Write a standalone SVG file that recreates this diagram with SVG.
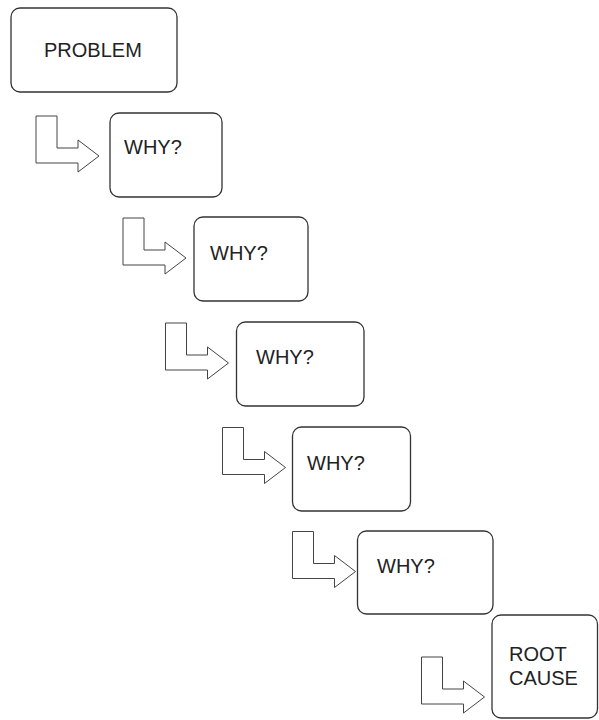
<svg xmlns="http://www.w3.org/2000/svg" width="599" height="720" viewBox="0 0 599 720">
<defs>
<style>
.box{fill:#fff;stroke:#333;stroke-width:1.3}
.arr{fill:#fff;stroke:#444;stroke-width:1}
.t{font-family:"Liberation Sans",Arial,sans-serif;font-size:20px;fill:#222}
</style>
<polygon id="arrow" points="0,0 21,0 21,32 42,32 42,24 63,40 42,56 42,47 0,47 0,0"/>
</defs>
<rect width="599" height="720" fill="#fff"/>
<g id="connectors">
<use href="#arrow" class="arr" transform="translate(36,116)"/>
<use href="#arrow" class="arr" transform="translate(123,218)"/>
<use href="#arrow" class="arr" transform="translate(165.5,323)"/>
<use href="#arrow" class="arr" transform="translate(222.5,427.5)"/>
<use href="#arrow" class="arr" transform="translate(292.5,531.5)"/>
<use href="#arrow" class="arr" transform="translate(421.5,657)"/>
</g>
<g id="problem">
<rect class="box" x="11" y="8" width="166" height="84" rx="9"/>
<text class="t" x="44" y="57">PROBLEM</text>
</g>
<g id="why1">
<rect class="box" x="110" y="113" width="112" height="84" rx="9"/>
<text class="t" x="124" y="154">WHY?</text>
</g>
<g id="why2">
<rect class="box" x="194" y="217" width="114" height="84" rx="9"/>
<text class="t" x="210" y="260">WHY?</text>
</g>
<g id="why3">
<rect class="box" x="236.5" y="322" width="127.5" height="84" rx="9"/>
<text class="t" x="256" y="364">WHY?</text>
</g>
<g id="why4">
<rect class="box" x="292.5" y="427" width="118" height="84" rx="9"/>
<text class="t" x="307" y="470">WHY?</text>
</g>
<g id="why5">
<rect class="box" x="357.5" y="531" width="135.5" height="83" rx="9"/>
<text class="t" x="377" y="573">WHY?</text>
</g>
<g id="rootcause">
<rect class="box" x="492" y="615" width="105.5" height="103" rx="9"/>
<text class="t" x="509" y="661">ROOT</text>
<text class="t" x="509" y="685">CAUSE</text>
</g>
</svg>
